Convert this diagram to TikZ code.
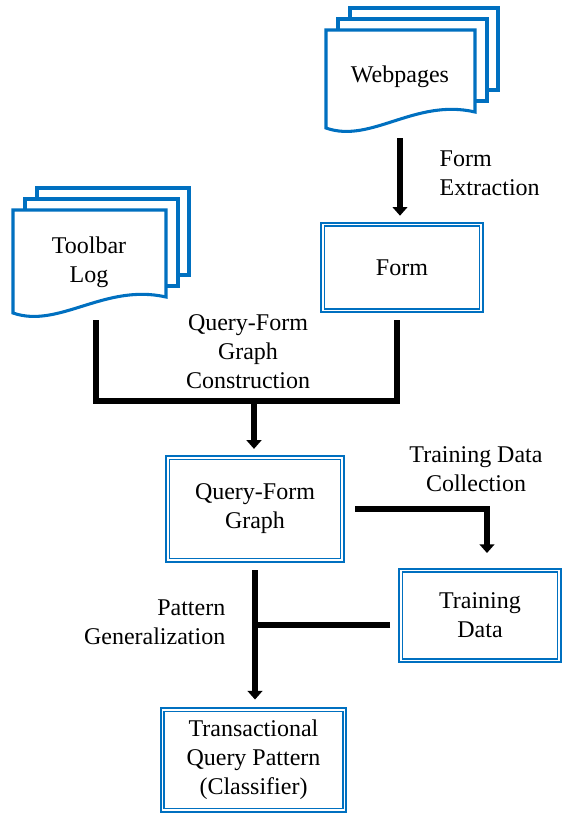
\documentclass[tikz,border=0pt]{standalone}
\usepackage{fontspec}
\setmainfont{Liberation Serif}
\newfontfamily\labelfont{Liberation Serif}
\usetikzlibrary{arrows.meta}
\definecolor{docblue}{RGB}{0,112,192}

% a stack of three sheets; front sheet left, top, right, bottom
\newcommand{\docstack}[4]{%
  \filldraw[doc] ({#1+24},{#2-22}) rectangle ({#3+23},{#4-22});
  \filldraw[doc] ({#1+12},{#2-11}) rectangle ({#3+12},{#4-11});
  \filldraw[doc] (#1,#2) -- (#3,#2) -- (#3,#4)
    .. controls ({#1+0.6*(#3-#1)},{#4-14}) and ({#1+0.3*(#3-#1)},{#4+32}) .. (#1,{#4+16}) -- cycle;
}

\begin{document}
\begin{tikzpicture}[x=0.75pt, y=-0.75pt,
  font=\labelfont\fontsize{18}{21.75}\selectfont,
  doc/.style={draw=docblue, fill=white, line width=2.3pt, line join=miter},
  dbox/.style={draw=docblue, double=white, double distance=1.4pt, line width=1.2pt, align=center, inner sep=0pt},
  link/.style={line width=4pt, line join=miter},
  arrow/.style={link, -{Triangle[width=11pt,length=6.5pt]}}]
\useasboundingbox (0,0) rectangle (565,815);

\docstack{326}{30}{475}{112}
\docstack{13}{210}{166}{297}

\node (web) at (400,77) {Webpages};
\node[align=center] (tool) at (89,262) {Toolbar\\Log};
\node[dbox, minimum width=119pt, minimum height=64.5pt] (form) at (402,267.5) {Form};
\node[dbox, minimum width=131pt, minimum height=77pt] (qfg) at (255,509) {Query-Form\\Graph};
\node[dbox, minimum width=119pt, minimum height=67.5pt] (td) at (480,615.5) {Training\\Data};
\node[dbox, minimum width=136.5pt, minimum height=75.5pt] (tqp) at (253.5,760) {Transactional\\Query Pattern\\(Classifier)};

\coordinate (webout) at (400,138);
\coordinate (toolout) at (96,320);
\coordinate (formout) at (397,320);
\coordinate (join) at (254,401);
\coordinate (tdin) at (487,553);
\coordinate (tdout) at (390,625);

\draw[arrow, shorten >=6pt] (webout) -- (webout |- form.north);
\draw[link] (toolout) |- (join) -| (formout);
\draw[arrow, shorten >=6pt] (join) -- (join |- qfg.north);
\draw[arrow, shorten <=9pt] (qfg.east) -| (tdin);
\draw[arrow, shorten <=7pt, shorten >=7pt] (qfg.south) -- (qfg.south |- tqp.north);
\draw[link] (tdout) -- (tdout -| qfg.south);

\node[anchor=west, align=left] (fe) at (435,173) {Form\\Extraction};
\node[align=center] (qfgc) at (248,352) {Query-Form\\Graph\\Construction};
\node[align=center] (tdc) at (476,469) {Training Data\\Collection};
\node[anchor=east, align=right] (pg) at (230,622) {Pattern\\Generalization};
\end{tikzpicture}
\end{document}
